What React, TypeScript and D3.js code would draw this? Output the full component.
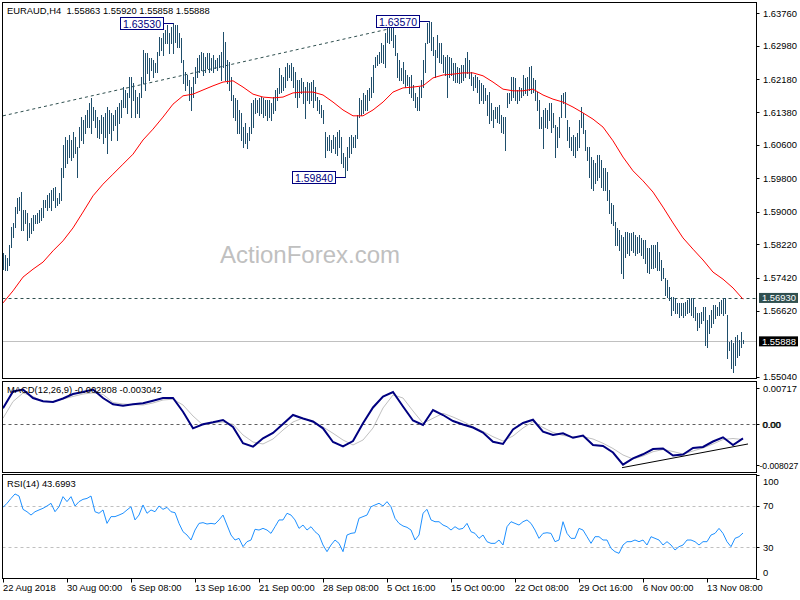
import React from "react";
import * as d3 from "d3";

const titleText = "EURAUD,H4  1.55863 1.55920 1.55858 1.55888";
const macdTitle = "MACD(12,26,9) -0.002808 -0.003042";
const rsiTitle = "RSI(14) 43.6993";
const watermark = "ActionForex.com";

const highs = [
  1.5801,1.5796,1.5789,1.5820,1.5863,1.5873,1.5911,1.5933,1.5935,1.5947,
  1.5904,1.5904,1.5897,1.5873,1.5885,1.5892,1.5892,1.5897,1.5904,1.5909,
  1.5928,1.5928,1.5940,1.5945,1.5952,1.5957,1.5959,1.5933,1.5945,1.6005,
  1.6060,1.6079,1.6072,1.6084,1.6072,1.6091,1.6079,1.6055,1.6103,1.6127,
  1.6120,1.6132,1.6144,1.6161,1.6173,1.6151,1.6144,1.6127,1.6120,1.6132,
  1.6127,1.6137,1.6151,1.6144,1.6137,1.6132,1.6144,1.6151,1.6161,1.6168,
  1.6199,1.6192,1.6185,1.6223,1.6223,1.6209,1.6192,1.6175,1.6185,1.6223,
  1.6288,1.6281,1.6281,1.6269,1.6269,1.6264,1.6257,1.6283,1.6319,1.6317,
  1.6329,1.6336,1.6348,1.6329,1.6343,1.6353,1.6348,1.6348,1.6329,1.6317,
  1.6264,1.6235,1.6228,1.6216,1.6199,1.6223,1.6247,1.6269,1.6276,1.6283,
  1.6281,1.6271,1.6281,1.6281,1.6269,1.6276,1.6264,1.6269,1.6276,1.6283,
  1.6331,1.6307,1.6264,1.6259,1.6223,1.6180,1.6173,1.6168,1.6144,1.6137,
  1.6103,1.6113,1.6089,1.6103,1.6161,1.6168,1.6173,1.6168,1.6173,1.6175,
  1.6173,1.6168,1.6168,1.6168,1.6161,1.6175,1.6192,1.6197,1.6245,1.6228,
  1.6223,1.6247,1.6257,1.6252,1.6257,1.6247,1.6235,1.6216,1.6216,1.6221,
  1.6211,1.6199,1.6211,1.6209,1.6211,1.6216,1.6199,1.6175,1.6168,1.6156,
  1.6144,1.6091,1.6079,1.6084,1.6072,1.6084,1.6079,1.6091,1.6096,1.6079,
  1.6041,1.6031,1.6055,1.6079,1.6084,1.6079,1.6084,1.6132,1.6173,1.6168,
  1.6185,1.6180,1.6192,1.6197,1.6223,1.6252,1.6271,1.6276,1.6283,1.6305,
  1.6300,1.6329,1.6343,1.6348,1.6341,1.6343,1.6324,1.6281,1.6264,1.6245,
  1.6259,1.6240,1.6228,1.6223,1.6228,1.6204,1.6185,1.6175,1.6199,1.6216,
  1.6264,1.6305,1.6353,1.6357,1.6355,1.6319,1.6288,1.6324,1.6305,1.6305,
  1.6276,1.6271,1.6276,1.6271,1.6269,1.6257,1.6257,1.6247,1.6245,1.6252,
  1.6252,1.6269,1.6283,1.6264,1.6235,1.6223,1.6228,1.6223,1.6216,1.6209,
  1.6204,1.6197,1.6180,1.6187,1.6161,1.6144,1.6151,1.6151,1.6156,1.6132,
  1.6127,1.6127,1.6185,1.6185,1.6223,1.6223,1.6221,1.6192,1.6199,1.6197,
  1.6228,1.6221,1.6223,1.6247,1.6250,1.6221,1.6216,1.6187,1.6168,1.6127,
  1.6144,1.6149,1.6144,1.6161,1.6161,1.6137,1.6108,1.6103,1.6127,1.6180,
  1.6185,1.6187,1.6120,1.6103,1.6079,1.6084,1.6079,1.6089,1.6120,1.6151,
  1.6137,1.6096,1.6055,1.6055,1.6031,1.6024,1.6017,1.6036,1.6036,1.6024,
  1.6005,1.6005,1.5995,1.5952,1.5921,1.5916,1.5875,1.5861,1.5856,1.5844,
  1.5839,1.5851,1.5851,1.5849,1.5849,1.5851,1.5844,1.5839,1.5844,1.5837,
  1.5832,1.5832,1.5813,1.5813,1.5820,1.5820,1.5820,1.5827,1.5803,1.5784,
  1.5765,1.5741,1.5736,1.5719,1.5695,1.5695,1.5693,1.5681,1.5681,1.5681,
  1.5681,1.5683,1.5688,1.5693,1.5693,1.5693,1.5671,1.5657,1.5657,1.5659,
  1.5671,1.5671,1.5640,1.5652,1.5664,1.5676,1.5676,1.5671,1.5683,1.5688,
  1.5693,1.5693,1.5652,1.5587,1.5592,1.5585,1.5599,1.5604,1.5592,1.5611,1.5592,
];

const lows = [
  1.5762,1.5760,1.5760,1.5772,1.5815,1.5839,1.5863,1.5897,1.5904,1.5856,
  1.5856,1.5873,1.5832,1.5839,1.5849,1.5856,1.5873,1.5873,1.5875,1.5880,
  1.5887,1.5911,1.5904,1.5911,1.5904,1.5928,1.5911,1.5916,1.5921,1.5928,
  1.5983,1.6007,1.6017,1.6031,1.6024,1.6031,1.6041,1.5983,1.6055,1.6072,
  1.6065,1.6089,1.6103,1.6103,1.6089,1.6120,1.6103,1.6079,1.6077,1.6089,
  1.6065,1.6079,1.6041,1.6089,1.6072,1.6096,1.6108,1.6072,1.6113,1.6127,
  1.6151,1.6151,1.6137,1.6175,1.6127,1.6168,1.6127,1.6137,1.6127,1.6175,
  1.6209,1.6192,1.6233,1.6216,1.6240,1.6223,1.6235,1.6235,1.6276,1.6288,
  1.6276,1.6305,1.6305,1.6281,1.6305,1.6281,1.6307,1.6295,1.6295,1.6259,
  1.6209,1.6192,1.6204,1.6168,1.6144,1.6175,1.6209,1.6223,1.6235,1.6240,
  1.6228,1.6235,1.6245,1.6235,1.6240,1.6235,1.6245,1.6240,1.6247,1.6216,
  1.6247,1.6216,1.6209,1.6192,1.6168,1.6127,1.6120,1.6089,1.6089,1.6072,
  1.6055,1.6065,1.6053,1.6072,1.6089,1.6103,1.6137,1.6139,1.6132,1.6137,
  1.6127,1.6132,1.6120,1.6127,1.6120,1.6137,1.6144,1.6168,1.6185,1.6187,
  1.6192,1.6199,1.6216,1.6223,1.6216,1.6199,1.6175,1.6151,1.6175,1.6185,
  1.6161,1.6125,1.6168,1.6161,1.6168,1.6151,1.6168,1.6144,1.6137,1.6127,
  1.6113,1.6031,1.6048,1.6048,1.6043,1.6053,1.6041,1.6036,1.6055,1.6017,
  1.6007,1.5984,1.6000,1.6031,1.6041,1.6055,1.6055,1.6077,1.6127,1.6132,
  1.6137,1.6144,1.6144,1.6168,1.6175,1.6187,1.6247,1.6252,1.6257,1.6259,
  1.6257,1.6247,1.6307,1.6305,1.6312,1.6295,1.6276,1.6223,1.6216,1.6216,
  1.6209,1.6199,1.6204,1.6185,1.6175,1.6168,1.6151,1.6144,1.6144,1.6175,
  1.6199,1.6235,1.6305,1.6307,1.6288,1.6276,1.6223,1.6271,1.6259,1.6257,
  1.6235,1.6228,1.6175,1.6223,1.6228,1.6216,1.6211,1.6211,1.6209,1.6211,
  1.6216,1.6223,1.6233,1.6221,1.6204,1.6192,1.6199,1.6187,1.6161,1.6168,
  1.6161,1.6168,1.6132,1.6113,1.6120,1.6103,1.6125,1.6115,1.6113,1.6091,
  1.6089,1.6048,1.6151,1.6161,1.6168,1.6175,1.6168,1.6161,1.6168,1.6175,
  1.6180,1.6185,1.6180,1.6192,1.6185,1.6187,1.6168,1.6144,1.6101,1.6101,
  1.6053,1.6103,1.6101,1.6120,1.6091,1.6103,1.6031,1.6055,1.6079,1.6127,
  1.6161,1.6127,1.6072,1.6055,1.6048,1.6036,1.6031,1.6048,1.6055,1.6103,
  1.6089,1.6048,1.6024,1.5983,1.5957,1.5952,1.5969,1.5976,1.5983,1.5959,
  1.5952,1.5952,1.5928,1.5897,1.5873,1.5868,1.5820,1.5820,1.5808,1.5753,
  1.5741,1.5791,1.5801,1.5796,1.5808,1.5803,1.5796,1.5801,1.5803,1.5796,
  1.5789,1.5777,1.5755,1.5753,1.5765,1.5765,1.5767,1.5760,1.5760,1.5736,
  1.5741,1.5700,1.5695,1.5688,1.5652,1.5664,1.5657,1.5657,1.5647,1.5652,
  1.5647,1.5652,1.5657,1.5659,1.5652,1.5647,1.5640,1.5616,1.5623,1.5633,
  1.5640,1.5580,1.5575,1.5609,1.5623,1.5633,1.5645,1.5652,1.5652,1.5657,
  1.5652,1.5657,1.5549,1.5568,1.5525,1.5515,1.5532,1.5551,1.5556,1.5575,1.5586,
];

// moving average, one value every 5 bars
const maStep = 5;
const maValues = [
  1.5681,1.5710,1.5743,1.5762,1.5779,1.5806,1.5830,1.5861,1.5899,1.5938,
  1.5966,1.5990,1.6014,1.6038,1.6072,1.6098,1.6127,1.6158,1.6178,1.6182,
  1.6192,1.6202,1.6211,1.6214,1.6199,1.6182,1.6175,1.6173,1.6175,1.6185,
  1.6187,1.6187,1.6180,1.6163,1.6144,1.6130,1.6130,1.6144,1.6163,1.6187,
  1.6197,1.6199,1.6202,1.6221,1.6228,1.6230,1.6233,1.6233,1.6226,1.6211,
  1.6194,1.6190,1.6190,1.6194,1.6180,1.6170,1.6163,1.6151,1.6137,1.6122,
  1.6103,1.6070,1.6031,1.5998,1.5974,1.5947,1.5911,1.5873,1.5837,1.5810,
  1.5784,1.5755,1.5738,1.5717,1.5690,
];

// MACD, one value every 5 bars
const macdStep = 5;
const macdMain = [
  0.00319,0.00653,0.00693,0.00524,0.00458,0.00444,0.00514,0.00603,0.00643,0.00693,
  0.00524,0.00398,0.00370,0.00398,0.00418,0.00470,0.00524,0.00524,0.00251,-0.00080,
  0.00000,0.00040,0.00086,-0.00054,-0.00378,-0.00446,-0.00279,-0.00173,0.00006,0.00185,
  0.00116,0.00056,-0.00080,-0.00353,-0.00442,-0.00333,0.00020,0.00335,0.00554,0.00643,
  0.00355,0.00076,-0.00014,0.00285,0.00185,0.00066,-0.00004,-0.00064,-0.00163,-0.00347,
  -0.00392,-0.00104,0.00026,0.00090,-0.00147,-0.00213,-0.00179,-0.00269,-0.00223,-0.00412,
  -0.00432,-0.00562,-0.00803,-0.00677,-0.00597,-0.00492,-0.00482,-0.00621,-0.00601,-0.00472,
  -0.00452,-0.00343,-0.00259,-0.00412,-0.002808,
];
const macdSignal = [
  0.00120,0.00454,0.00623,0.00554,0.00450,0.00450,0.00504,0.00554,0.00603,0.00627,
  0.00594,0.00434,0.00404,0.00392,0.00384,0.00424,0.00484,0.00500,0.00384,0.00165,
  -0.00014,0.00026,0.00046,0.00000,-0.00213,-0.00353,-0.00392,-0.00293,-0.00114,0.00046,
  0.00125,0.00036,-0.00054,-0.00179,-0.00313,-0.00412,-0.00313,-0.00074,0.00325,0.00584,
  0.00524,0.00265,0.00020,0.00120,0.00219,0.00145,0.00056,-0.00048,-0.00143,-0.00247,
  -0.00333,-0.00233,-0.00074,0.00052,-0.00064,-0.00163,-0.00223,-0.00247,-0.00247,-0.00293,
  -0.00378,-0.00482,-0.00611,-0.00691,-0.00631,-0.00546,-0.00502,-0.00542,-0.00592,-0.00532,
  -0.00472,-0.00392,-0.00303,-0.00283,-0.003042,
];
const macdTrendBars = [309.5, 372.5];
const macdTrendValues = [-0.00864, -0.00392];
const macdAxisValues = [0.00717, 0, -0.008027];

// RSI(14), one value every 2 bars
const rsiStep = 2;
const rsiValues = [
  68.4,72.3,77,81.3,79.3,66.5,64.2,61,64.2,65.9,
  67.5,69.7,72.3,64.2,69,78.7,73.9,78.7,69.7,73.9,
  76.1,77,79.3,64.2,62.7,65.9,53,59.5,59.5,61,
  62.7,65.9,69,56.3,61,70.7,62.7,65.9,64.2,69.7,
  66.5,68.4,64.2,63.3,53,45,41.8,37,46.6,53,
  53.7,52.4,53,52.4,56.3,61,51.4,41.8,37,38.6,
  30.6,35.4,37,47.3,46.6,48.2,46.6,43.4,49.8,56.3,
  56.3,62.7,61,56.3,48.2,51.4,46.6,49.8,45,41.8,
  32.2,25.8,32.2,37,33.8,25.8,41.8,43.4,44,57.9,
  59.5,61,69,70.7,72.3,69.7,73.9,69,57.9,53,
  50.5,49.2,46.6,37,41.8,62.7,66.5,56.3,54.6,54.6,
  51.4,49.8,46.6,49.8,47.3,48.2,53,45,43.4,38.6,
  41.8,35.4,33.8,33.8,37,32.2,49.8,54.6,53,51.4,
  54.6,56.3,53,46.6,38.6,43.4,44,43.4,35.4,37,
  54.6,43.4,38.6,38.6,48.2,46.6,40.2,33.8,40.2,40.2,
  37,37,29,25.8,24.2,32.2,35.4,35.4,37,35.4,
  37,32.2,40.2,38.6,37,32.2,35.4,32.2,27.4,30.6,
  32.2,37,37,35.4,32.2,35.4,35.4,41.8,43.4,48.2,
  43.4,35.4,30.6,38.6,40.2,43.7,
];
const rsiLevels = [70, 30];
const rsiAxisLabels = [100, 70, 30, 0];

const priceTicks = [1.6376,1.6298,1.6218,1.6138,1.606,1.598,1.59,1.5822,1.5742,1.5662,1.5504];
const resistanceLevel = 1.5693;
const lastClose = 1.55888;
const priceTrendBars = [0, 192.5];
const priceTrendValues = [1.613, 1.6338];

const swingBars = [85, 171, 213];
const swingPrices = [1.6353, 1.5984, 1.6357];

const dateLabels = [
  "22 Aug 2018","30 Aug 00:00","6 Sep 08:00","13 Sep 16:00","21 Sep 00:00","28 Sep 08:00",
  "5 Oct 16:00","15 Oct 00:00","22 Oct 08:00","29 Oct 16:00","6 Nov 00:00","13 Nov 08:00",
];
const barsPerDateLabel = 32;

const FONT = "'Liberation Sans', Arial, sans-serif";
const FS = 9.4;
const BAR_COLOR = "#1f4e6b";
const SLATE = "#2f4f4f";

export default function App() {
  const left = 2.5, right = 756.5;
  const mainTop = 2.5, mainBottom = 378.5;
  const macdTop = 381.5, macdBottom = 472.5;
  const rsiTop = 474.5, rsiBottom = 578.5;

  const x = d3.scaleLinear().domain([0, highs.length - 1]).range([3, 743]);
  const px = (i: number) => Math.round(x(i)) + 0.5;
  const yP = d3.scaleLinear().domain([1.5504, 1.6376]).range([376.7, 13.3]);
  const yM = d3.scaleLinear().domain([-0.008027, 0.00717]).range([464.6, 388.3]);
  const yR = d3.scaleLinear().domain([0, 100]).range([rsiBottom, rsiTop]);

  const maLine = d3.line<number>().x((_, k) => x(k * maStep)).y((d) => yP(d));
  const macdLine = d3.line<number>().x((_, k) => x(k * macdStep)).y((d) => yM(d));
  const rsiLine = d3.line<number>().x((_, k) => x(k * rsiStep)).y((d) => yR(d));

  const fmt5 = (v: number) => v.toFixed(5);
  const macdLabel = (v: number) => (v === 0 ? "0.00" : v > 0 ? v.toFixed(5) : v.toFixed(6));

  return (
    <svg width={800} height={600} style={{ position: "absolute", left: 0, top: 0, background: "#fff" }} fontFamily={FONT}>
      <rect x={0} y={0} width={800} height={600} fill="#fff" />
      <defs>
        <clipPath id="clipMain"><rect x={left} y={mainTop} width={right - left} height={mainBottom - mainTop} /></clipPath>
        <clipPath id="clipMacd"><rect x={left} y={macdTop} width={right - left} height={macdBottom - macdTop} /></clipPath>
        <clipPath id="clipRsi"><rect x={left} y={rsiTop} width={right - left} height={rsiBottom - rsiTop} /></clipPath>
      </defs>

      {/* main panel */}
      <text x={220} y={263} fontSize={24} fill="#c0c0c0">{watermark}</text>
      <g clipPath="url(#clipMain)">
        <line x1={left} x2={right} y1={Math.round(yP(lastClose)) + 0.5} y2={Math.round(yP(lastClose)) + 0.5} stroke="#c0c0c0" />
        <line x1={left} x2={right} y1={Math.round(yP(resistanceLevel)) + 0.5} y2={Math.round(yP(resistanceLevel)) + 0.5} stroke={SLATE} strokeDasharray="3,3" />
        <line x1={x(priceTrendBars[0])} x2={x(priceTrendBars[1])} y1={yP(priceTrendValues[0])} y2={yP(priceTrendValues[1])} stroke={SLATE} strokeDasharray="3,3" />
        <g stroke={BAR_COLOR} shapeRendering="crispEdges">
          {highs.map((h, i) => (
            <line key={i} x1={px(i)} x2={px(i)} y1={Math.round(yP(h))} y2={Math.round(yP(lows[i])) + 1} />
          ))}
        </g>
        <path d={maLine(maValues) || ""} fill="none" stroke="#ff0000" strokeWidth={1} />
      </g>
      {swingBars.map((b, k) => {
        const yy = Math.round(yP(swingPrices[k])) + 0.5;
        const bx = px(b);
        const boxR = bx - 10;
        return (
          <g key={k}>
            <line x1={boxR} x2={bx} y1={yy} y2={yy} stroke="#000080" />
            <rect x={boxR - 43} y={yy - 6} width={43} height={12} fill="#fff" stroke="#000080" />
            <text x={boxR - 21.5} y={yy + 4} fontSize={10.5} fill="#000080" textAnchor="middle">{fmt5(swingPrices[k])}</text>
          </g>
        );
      })}
      <text x={7} y={14} fontSize={FS} fill="#000" style={{ whiteSpace: "pre" }}>{titleText}</text>

      {/* price axis */}
      {priceTicks.map((t) => (
        <g key={t}>
          <line x1={right} x2={right + 3} y1={Math.round(yP(t)) + 0.5} y2={Math.round(yP(t)) + 0.5} stroke="#000" />
          <text x={763} y={yP(t) + 3.5} fontSize={FS} fill="#000">{fmt5(t)}</text>
        </g>
      ))}
      <rect x={759} y={yP(resistanceLevel) - 5} width={39} height={10} fill={SLATE} />
      <text x={762} y={yP(resistanceLevel) + 3.5} fontSize={FS} fill="#fff">{fmt5(resistanceLevel)}</text>
      <rect x={759} y={yP(lastClose) - 5} width={39} height={10} fill="#000" />
      <text x={762} y={yP(lastClose) + 3.5} fontSize={FS} fill="#fff">{fmt5(lastClose)}</text>

      {/* MACD panel */}
      <g clipPath="url(#clipMacd)">
        <line x1={left} x2={right} y1={Math.round(yM(0)) + 0.5} y2={Math.round(yM(0)) + 0.5} stroke="#606060" strokeDasharray="3,3" />
        <path d={macdLine(macdSignal) || ""} fill="none" stroke="#c0c0c0" strokeWidth={1} />
        <path d={macdLine(macdMain) || ""} fill="none" stroke="#000080" strokeWidth={2} />
        <line x1={x(macdTrendBars[0])} x2={x(macdTrendBars[1])} y1={yM(macdTrendValues[0])} y2={yM(macdTrendValues[1])} stroke="#000" />
      </g>
      <text x={7} y={393} fontSize={FS} fill="#000" style={{ whiteSpace: "pre" }}>{macdTitle}</text>
      {macdAxisValues.map((v) => (
        <g key={v}>
          <line x1={right} x2={right + 3} y1={Math.round(yM(v)) + 0.5} y2={Math.round(yM(v)) + 0.5} stroke="#000" />
          <text x={v < 0 ? 759.5 : 763} y={yM(v) + (v < 0 ? 4.5 : 3.5)} fontSize={v < 0 ? 8.6 : FS}>{macdLabel(v)}</text>
        </g>
      ))}
      <text x={762.3} y={yM(0) + 3.5} fontSize={FS}>{macdLabel(0)}</text>

      {/* RSI panel */}
      <g clipPath="url(#clipRsi)">
        {rsiLevels.map((l) => (
          <line key={l} x1={left} x2={right} y1={Math.round(yR(l)) + 0.5} y2={Math.round(yR(l)) + 0.5} stroke="#c0c0c0" strokeDasharray="3,3" />
        ))}
        <path d={rsiLine(rsiValues) || ""} fill="none" stroke="#1e90ff" strokeWidth={1} />
      </g>
      <text x={7} y={486.5} fontSize={FS} fill="#000">{rsiTitle}</text>
      {rsiAxisLabels.map((v) => {
        const yy = yR(v);
        const cy = Math.min(Math.max(yy, rsiTop + 7), rsiBottom - 6);
        return (
          <g key={v}>
            <line x1={right} x2={right + 3} y1={Math.round(yy) + 0.5} y2={Math.round(yy) + 0.5} stroke="#000" />
            <text x={763} y={cy + 3.5} fontSize={FS}>{v}</text>
          </g>
        );
      })}

      {/* panel borders */}
      <g fill="none" stroke="#000" shapeRendering="crispEdges">
        <rect x={left} y={mainTop} width={right - left} height={mainBottom - mainTop} />
        <rect x={left} y={macdTop} width={right - left} height={macdBottom - macdTop} />
        <rect x={left} y={rsiTop} width={right - left} height={rsiBottom - rsiTop} />
      </g>

      {/* time axis */}
      {dateLabels.map((d, k) => {
        const xx = px(k * barsPerDateLabel);
        return (
          <g key={d}>
            <line x1={xx} x2={xx} y1={rsiBottom} y2={rsiBottom + 4} stroke="#000" />
            <text x={xx - 0.5} y={591} fontSize={FS} fill="#000">{d}</text>
          </g>
        );
      })}
    </svg>
  );
}
